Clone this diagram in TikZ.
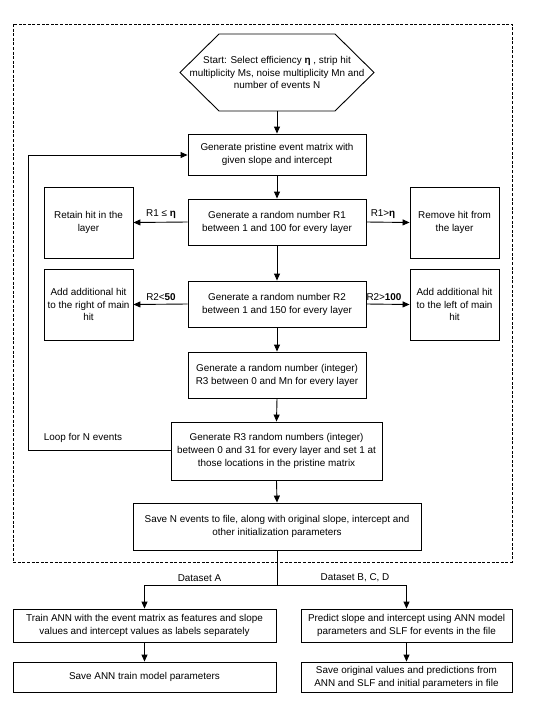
\documentclass[tikz,border=0pt]{standalone}
\usepackage{fontspec}
\setmainfont{Liberation Sans}
\usetikzlibrary{arrows.meta,calc}
\begin{document}
\begin{tikzpicture}[x=1pt,y=-1pt,
  every node/.style={font=\fontsize{9.9}{12.9}\selectfont},
  bx/.style={draw,line width=0.9pt,align=center,inner sep=0pt},
  lbl/.style={inner sep=1pt},
  arr/.style={line width=0.9pt,-{Triangle[length=7pt,width=6pt]}},
  ln/.style={line width=0.9pt}]
\useasboundingbox (0,0) rectangle (553,715);
% dashed frame
\draw[line width=0.8pt,dash pattern=on 3pt off 1.6pt] (13,24) rectangle (512,562);
% start hexagon
\draw[line width=0.9pt] (180,72.5) -- (219,34) -- (335,34) -- (374,72.5) -- (335,111) -- (219,111) -- cycle;
\node[align=center,minimum width=194pt,minimum height=77pt,inner sep=0pt] (start) at (277,72.5)
  {Start: Select efficiency \textbf{η} , strip hit\\multiplicity Ms, noise multiplicity Mn and\\number of events N};
\node[bx,minimum width=178pt,minimum height=41pt] (b1) at (277,154.5)
  {Generate pristine event matrix with\\given slope and intercept};
\node[bx,minimum width=178pt,minimum height=46pt] (b2) at (277,222)
  {Generate a random number R1\\between 1 and 100 for every layer};
\node[bx,minimum width=89pt,minimum height=71pt] (l1) at (88.5,222.5)
  {Retain hit in the\\layer};
\node[bx,minimum width=89pt,minimum height=71pt] (r1) at (454.5,222.5)
  {Remove hit from\\the layer};
\node[bx,minimum width=178pt,minimum height=46pt] (b3) at (277,304)
  {Generate a random number R2\\between 1 and 150 for every layer};
\node[bx,minimum width=89pt,minimum height=71pt] (l2) at (88.5,304.5)
  {Add additional hit\\to the right of main\\hit};
\node[bx,minimum width=89pt,minimum height=71pt] (r2) at (454.5,304.5)
  {Add additional hit\\to the left of main\\hit};
\node[bx,minimum width=178pt,minimum height=46pt] (b4) at (277,375)
  {Generate a random number (integer)\\R3 between 0 and Mn for every layer};
\node[bx,minimum width=211pt,minimum height=58pt] (b5) at (276.5,451)
  {Generate R3 random numbers (integer)\\between 0 and 31 for every layer and set 1 at\\those locations in the pristine matrix};
\node[bx,minimum width=288pt,minimum height=47pt] (b6) at (277,526.5)
  {Save N events to file, along with original slope, intercept and\\other initialization parameters};
\node[bx,minimum width=263pt,minimum height=33pt] (b7) at (144.5,625.5)
  {Train ANN with the event matrix as features and slope\\values and intercept values as labels separately};
\node[bx,minimum width=211pt,minimum height=33pt] (b8) at (406.5,625.5)
  {Predict slope and intercept using ANN model\\parameters and SLF for events in the file};
\node[bx,minimum width=263pt,minimum height=30pt] (b9) at (144.5,677)
  {Save ANN train model parameters};
\node[bx,minimum width=211pt,minimum height=30pt] (b10) at (406.5,677)
  {Save original values and predictions from\\ANN and SLF and initial parameters in file};
% connectors
\draw[arr] (start.south) -- (b1.north);
\draw[arr] (b1.south) -- (b2.north);
\draw[arr] (b2.west) -- (l1.east);
\draw[arr] (b2.east) -- (r1.west);
\draw[arr] (b2.south) -- (b3.north);
\draw[arr] (b3.west) -- (l2.east);
\draw[arr] (b3.east) -- (r2.west);
\draw[arr] (b3.south) -- (b4.north);
\draw[arr] (b4.south) -- (b5.north);
\draw[arr] (b5.south) -- (b6.north);
\coordinate (lp1) at (28,450);
\coordinate (lp2) at (28,155);
\draw[arr] ($(b5.west)+(0,-1)$) -- (lp1) -- (lp2) -- ($(b1.west)+(0,0.5)$);
\coordinate (split) at (277,585);
\coordinate (sl) at (144.5,585);
\coordinate (sr) at (406.5,585);
\draw[ln] (b6.south) -- (split);
\draw[arr] (sr) -- (sl) -- (b7.north);
\draw[arr] (sl) -- (sr) -- (b8.north);
\draw[arr] (b7.south) -- (b9.north);
\draw[arr] (b8.south) -- (b10.north);
% labels
\node[lbl] (t1) at (161,214.5) {R1 ≤ \textbf{η}};
\node[lbl] (t2) at (383,214.5) {R1>\textbf{η}};
\node[lbl] (t3) at (161,297) {R2<\textbf{50}};
\node[lbl] (t4) at (384,297) {R2>\textbf{100}};
\node[lbl] (t5) at (83,438) {Loop for N events};
\node[lbl] (t6) at (199.5,578) {Dataset A};
\node[lbl] (t7) at (355,578) {Dataset B, C, D};
\end{tikzpicture}
\end{document}
